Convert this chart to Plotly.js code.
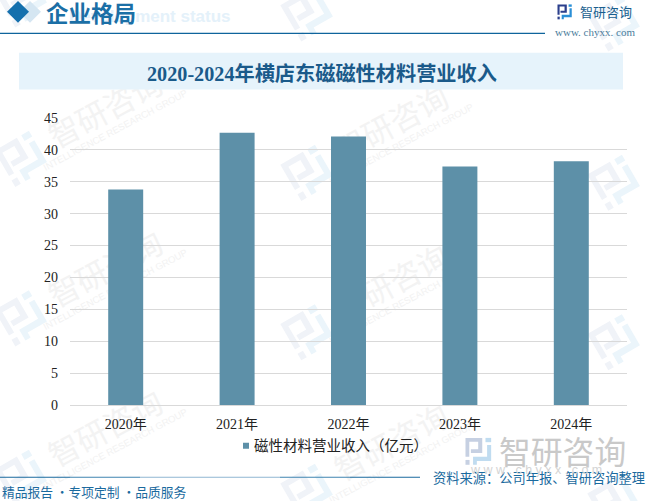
<!DOCTYPE html>
<html><head><meta charset="utf-8">
<script src="https://cdn.plot.ly/plotly-3.0.1.min.js"></script>
<style>html,body{margin:0;padding:0;background:#fff;overflow:hidden}</style>
</head><body><div id="chart" style="width:646px;height:501px"></div>
<script>
const categories = ["2020年","2021年","2022年","2023年","2024年"];
const revenue = [33.8, 42.7, 42.1, 37.4, 38.2];
const seriesName = "磁性材料营业收入（亿元）";
const yTicks = [0,5,10,15,20,25,30,35,40,45];
const chartTitle = "2020-2024年横店东磁磁性材料营业收入";
const sectionTitle = "企业格局";
const ghostTitle = "Development status";
const brand = "智研咨询";
const brandEn = "INTELLIGENCE RESEARCH GROUP";
const site = "www. chyxx. com";
const slogan = "精品报告 ·专项定制 ·品质服务";
const source = "资料来源：公司年报、智研咨询整理";

const L=70,R=627,T=117.5,B=405.5;
const X=p=>(p-L)/(R-L), Y=p=>(B-p)/(B-T);
const CJK='"Noto Sans CJK SC"';
const SERIF='"Liberation Serif",'+CJK;
const shapes=[], annotations=[];

function poly(pts,fill,layer){
  shapes.push({type:'path',xref:'paper',yref:'paper',layer:layer||'below',fillcolor:fill,line:{width:0},
    path:'M'+pts.map(p=>X(p[0]).toFixed(5)+','+Y(p[1]).toFixed(5)).join('L')+'Z'});
}
const logoDark=[
 [[0,0],[.62,0],[.62,.56],[.2,.56],[.2,.42],[.47,.42],[.47,.14],[.14,.14],[.14,.7],[0,.7]],
 [[0,.82],[.15,.82],[.15,1],[0,1]]
];
const logoBlue=[
 [[.74,0],[.95,0],[.95,.16],[.74,.16]],
 [[.8,.26],[.95,.26],[.95,.86],[.42,.86],[.42,1],[.28,1],[.28,.7],[.8,.7]]
];
function logo(cx,cy,size,deg,c1,c2,layer){
  const a=deg*Math.PI/180,c=Math.cos(a),s=Math.sin(a);
  const tr=p=>{const u=(p[0]-.5)*size,v=(p[1]-.5)*size;return [cx+u*c-v*s,cy+u*s+v*c];};
  logoDark.forEach(g=>poly(g.map(tr),c1,layer));
  logoBlue.forEach(g=>poly(g.map(tr),c2,layer));
}
function wmLabel(cx,cy,text,size,color,family){
  shapes.push({type:'rect',xref:'paper',yref:'paper',layer:'below',fillcolor:'rgba(0,0,0,0)',line:{width:0},
    x0:X(cx-1),x1:X(cx+1),y0:Y(cy+1),y1:Y(cy-1),
    label:{text:text,textangle:-28,textposition:'middle center',font:{size:size,color:color,family:family}}});
}
const wmCenters=[[23,-2],[23,158],[23,318],[23,478],[309,12],[309,172],[309,332],[309,492],[616,22],[616,182],[616,342],[616,502]];
wmCenters.forEach(c=>{
  logo(c[0],c[1],42,-30,'#f0f3f8','#ebf5fb');
  const tx=c[0]+84, ty=c[1]-46;
  if(ty>0 && tx<660){
    wmLabel(tx,ty,brand,31,'#f3f3f3',CJK);
    wmLabel(c[0]+92,c[1]-29,brandEn,9.5,'#f2f2f2','"Liberation Sans"');
  }
});

function text(x,y,t,size,color,anchor,family,weight){
  annotations.push({xref:'paper',yref:'paper',x:X(x),y:Y(y),text:t,showarrow:false,xanchor:anchor||'left',yanchor:'middle',
    borderpad:0,borderwidth:0,font:{size:size,color:color,family:family||CJK,weight:weight||'normal'}});
}
// header
poly([[30,0],[41,11],[30,22],[19,11]],'#d5e6f2','below');
poly([[18,0],[29,11],[18,22],[7,11]],'#1570ad','above');
text(231,16,ghostTitle,17,'#e4f1fa','right','"Liberation Sans"','bold');
text(46,11,sectionTitle,22.5,'#1b6fa6','left',CJK,'bold');
shapes.push({type:'line',xref:'paper',yref:'paper',layer:'below',x0:X(0),x1:X(545),y0:Y(32.5),y1:Y(32.5),line:{color:'#0f649c',width:1.2}});
logo(565,11,15,0,'#2b3f8c','#2a8fd6','above');
text(580,11,brand,13,'#1a5f8f');
text(555,31,site,11,'#4d7d9c','left','"Liberation Serif"');
// title band
shapes.push({type:'rect',xref:'paper',yref:'paper',layer:'below',x0:X(19),x1:X(623),y0:Y(89),y1:Y(52),fillcolor:'#e6f3fb',line:{width:0}});
text(321.5,73,chartTitle,20.2,'#1a5a8a','center',SERIF,'bold');
// footer
const footCols=['#1a6a9e','#3f84b0','#8fb6d2','#8fb6d2','#3f84b0','#1a6a9e'];
footCols.forEach((col,i)=>{
  shapes.push({type:'line',xref:'paper',yref:'paper',layer:'below',x0:X(i*70),x1:X((i+1)*70),y0:Y(478),y1:Y(478),line:{color:col,width:1.2}});
});
text(2,492,slogan,12.75,'#1a6a9e');
text(433,478,source,13.25,'#1a6a9e');
logo(479,452,27,0,'#c6d0e2','#c0dcf0','above');
text(499,451,brand,31.8,'#c9c9c9');
text(470,471,"w w w . c h y x x . c o m",12.5,'#d4d4d4','left','"Liberation Sans"');

const trace={type:'bar',x:categories,y:revenue,name:seriesName,width:0.314,marker:{color:'#5d90a8',line:{width:0}}};
const layout={
  width:646,height:501,margin:{l:L,r:646-R,t:T,b:501-B,pad:0},
  paper_bgcolor:'#fff',plot_bgcolor:'rgba(0,0,0,0)',
  font:{family:SERIF,size:14,color:'#222'},
  showlegend:true,
  legend:{orientation:'h',x:X(226),y:Y(446.5),xanchor:'left',yanchor:'middle',bgcolor:'rgba(0,0,0,0)',
    font:{family:SERIF,size:14.5,color:'#222'}},
  xaxis:{type:'category',categoryorder:'array',categoryarray:categories,showgrid:false,showline:true,linecolor:'#d9d9d9',linewidth:1,
    ticks:'',ticklabelstandoff:6,tickfont:{family:SERIF,size:14,color:'#222'},zeroline:false},
  yaxis:{range:[0,45],tickmode:'array',tickvals:yTicks,ticktext:yTicks.map(String),showgrid:true,gridcolor:'#d9d9d9',gridwidth:1,
    zeroline:false,ticks:'',ticklabelstandoff:11,tickfont:{family:SERIF,size:14,color:'#222'},showline:false},
  shapes:shapes,annotations:annotations,bargap:0.686
};
Plotly.newPlot('chart',[trace],layout,{displayModeBar:false,staticPlot:true}).then(gd=>{
  const sw=gd.querySelector('.legend .legendpoints path');
  const tx=gd.querySelector('.legend .legendtext');
  if(sw&&tx){
    sw.setAttribute('d','M3,3H-3V-3H3Z');
    const a=sw.getBoundingClientRect(), b=tx.getBoundingClientRect();
    tx.setAttribute('x',parseFloat(tx.getAttribute('x')||0)-(b.left-a.right-5));
  }
});
</script></body></html>
